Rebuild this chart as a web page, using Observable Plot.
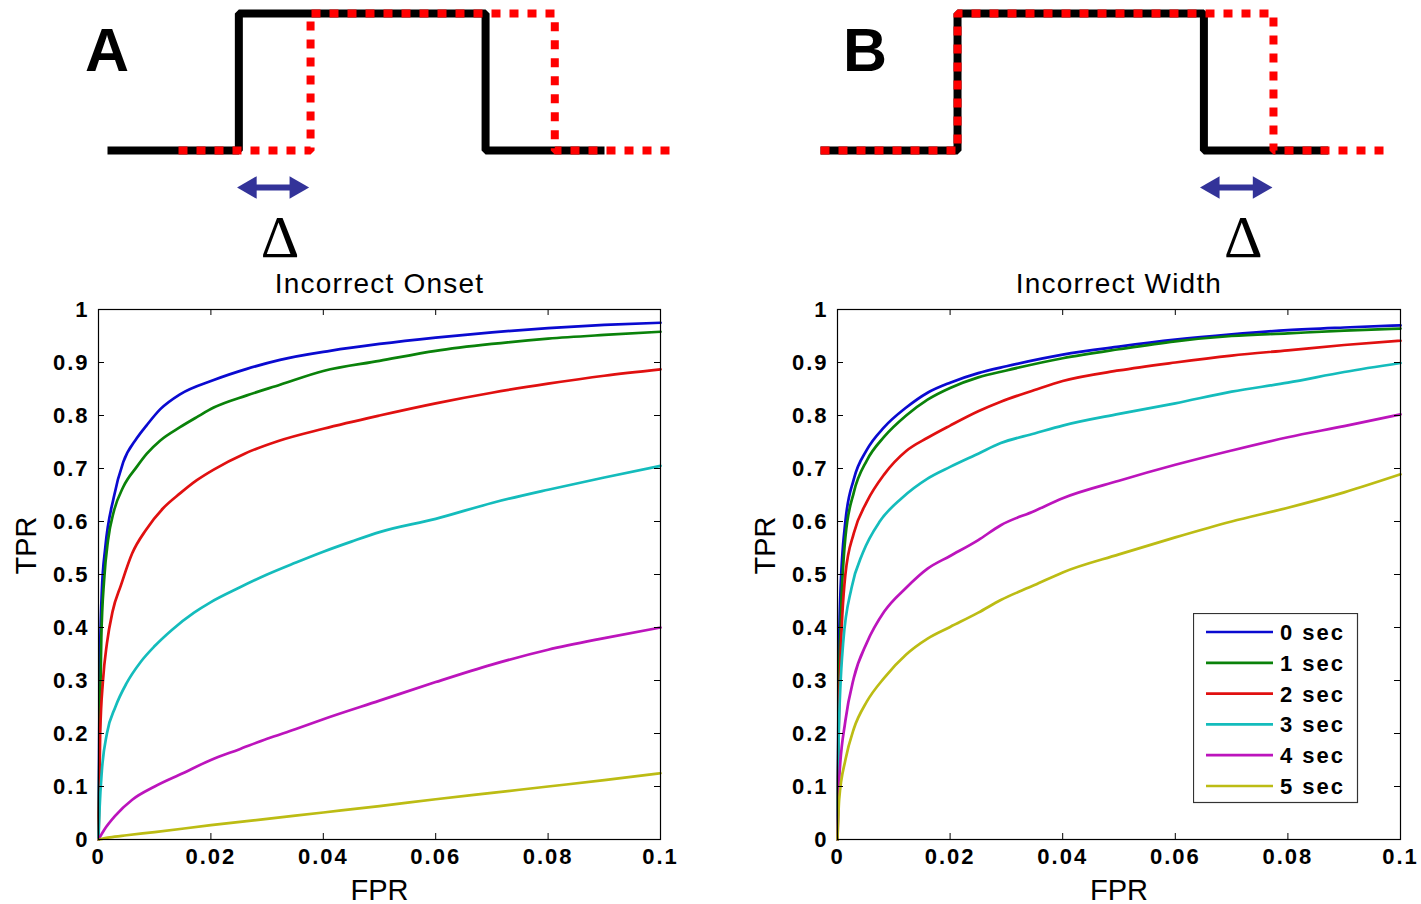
<!DOCTYPE html>
<html><head><meta charset="utf-8">
<script src="https://cdn.jsdelivr.net/npm/d3@7"></script>
<script src="https://cdn.jsdelivr.net/npm/@observablehq/plot@0.6"></script>
<style>
body{margin:0;background:#fff;}
#root{position:relative;width:1421px;height:904px;overflow:hidden;background:#fff;font-family:"Liberation Sans",Arial,sans-serif;}
.letter{position:absolute;font-weight:bold;font-size:61px;line-height:61px;color:#000;}
#root svg [aria-label="x-axis tick label"] text,
#root svg [aria-label="y-axis tick label"] text{letter-spacing:2px;}
.title text{letter-spacing:1.2px;}
</style></head><body><div id="root"></div>
<script>
// ---------------- data ----------------
const seriesNames = ["0 sec", "1 sec", "2 sec", "3 sec", "4 sec", "5 sec"];
const seriesColors = ["#0a0ad0", "#0a820a", "#e01010", "#14bcbc", "#bc14bc", "#bcbc14"];
const xTicks = [0, 0.02, 0.04, 0.06, 0.08, 0.1];
const xTickLabels = ["0", "0.02", "0.04", "0.06", "0.08", "0.1"];
const yTicks = [0, 0.1, 0.2, 0.3, 0.4, 0.5, 0.6, 0.7, 0.8, 0.9, 1];
const yTickLabels = ["0", "0.1", "0.2", "0.3", "0.4", "0.5", "0.6", "0.7", "0.8", "0.9", "1"];
const panelTitles = ["Incorrect Onset", "Incorrect Width"];
const panelLetters = ["A", "B"];

// Panel A: Incorrect Onset  [FPR, TPR]
const onset0 = [[0,0],[0.0002,0.3],[0.0006,0.47],[0.0012,0.55],[0.0027,0.645],[0.0044,0.712],[0.0068,0.757],[0.0086,0.782],[0.011,0.812],[0.0145,0.84],[0.0205,0.867],[0.0264,0.888],[0.0323,0.905],[0.0412,0.922],[0.05,0.935],[0.06,0.947],[0.07,0.957],[0.08,0.965],[0.09,0.971],[0.1,0.975]];
const onset1 = [[0,0],[0.0002,0.2],[0.0005,0.38],[0.001,0.49],[0.0017,0.565],[0.0027,0.618],[0.0044,0.665],[0.0068,0.703],[0.0086,0.728],[0.011,0.753],[0.0145,0.778],[0.0175,0.797],[0.0205,0.815],[0.0264,0.838],[0.0323,0.858],[0.04,0.884],[0.05,0.903],[0.06,0.922],[0.07,0.935],[0.08,0.945],[0.09,0.952],[0.1,0.958]];
const onset2 = [[0,0],[0.0003,0.2],[0.0008,0.3],[0.0015,0.37],[0.0025,0.43],[0.004,0.48],[0.006,0.54],[0.0085,0.585],[0.0115,0.625],[0.0145,0.653],[0.0175,0.678],[0.0205,0.698],[0.026,0.728],[0.032,0.752],[0.04,0.775],[0.05,0.8],[0.06,0.823],[0.07,0.843],[0.08,0.86],[0.09,0.875],[0.1,0.887]];
const onset3 = [[0,0],[0.0002,0.06],[0.0006,0.13],[0.0015,0.2],[0.003,0.25],[0.005,0.295],[0.0075,0.335],[0.01,0.365],[0.013,0.395],[0.017,0.428],[0.02,0.448],[0.025,0.475],[0.03,0.5],[0.035,0.522],[0.04,0.543],[0.045,0.562],[0.05,0.58],[0.06,0.605],[0.07,0.635],[0.08,0.66],[0.09,0.683],[0.1,0.705]];
const onset4 = [[0,0],[0.001,0.018],[0.003,0.045],[0.006,0.075],[0.01,0.1],[0.015,0.125],[0.02,0.15],[0.025,0.17],[0.03,0.19],[0.035,0.208],[0.04,0.227],[0.05,0.262],[0.06,0.297],[0.07,0.33],[0.08,0.358],[0.09,0.38],[0.1,0.4]];
const onset5 = [[0,0],[0.002,0.004],[0.005,0.008],[0.01,0.014],[0.02,0.027],[0.03,0.039],[0.04,0.051],[0.05,0.063],[0.06,0.076],[0.07,0.088],[0.08,0.1],[0.09,0.112],[0.1,0.125]];

// Panel B: Incorrect Width  [FPR, TPR]
const width0 = [[0,0],[0.0002,0.3],[0.0005,0.46],[0.0014,0.6],[0.0029,0.68],[0.0052,0.735],[0.0083,0.778],[0.0122,0.815],[0.016,0.843],[0.02,0.862],[0.025,0.88],[0.03,0.893],[0.04,0.915],[0.05,0.93],[0.06,0.943],[0.07,0.953],[0.08,0.961],[0.09,0.966],[0.1,0.97]];
const width1 = [[0,0],[0.0002,0.25],[0.0006,0.42],[0.0014,0.57],[0.0029,0.655],[0.0052,0.715],[0.0083,0.76],[0.0122,0.8],[0.016,0.83],[0.02,0.852],[0.025,0.872],[0.03,0.885],[0.04,0.908],[0.05,0.925],[0.06,0.94],[0.07,0.95],[0.08,0.955],[0.09,0.96],[0.1,0.964]];
const width2 = [[0,0],[0.0002,0.2],[0.0005,0.33],[0.0014,0.5],[0.0029,0.578],[0.0052,0.637],[0.0083,0.689],[0.0122,0.733],[0.016,0.758],[0.02,0.781],[0.025,0.808],[0.029,0.826],[0.035,0.848],[0.04,0.865],[0.05,0.885],[0.06,0.9],[0.07,0.913],[0.08,0.923],[0.09,0.933],[0.1,0.941]];
const width3 = [[0,0],[0.0002,0.19],[0.001,0.37],[0.0025,0.475],[0.0045,0.541],[0.0075,0.6],[0.0114,0.644],[0.016,0.681],[0.02,0.703],[0.025,0.728],[0.029,0.748],[0.035,0.766],[0.04,0.781],[0.05,0.803],[0.06,0.823],[0.07,0.845],[0.08,0.862],[0.09,0.882],[0.1,0.899]];
const width4 = [[0,0],[0.0003,0.113],[0.0014,0.224],[0.0029,0.305],[0.0052,0.371],[0.0083,0.43],[0.0122,0.475],[0.016,0.511],[0.02,0.535],[0.025,0.565],[0.029,0.593],[0.035,0.62],[0.04,0.644],[0.05,0.677],[0.06,0.707],[0.07,0.734],[0.08,0.759],[0.09,0.78],[0.1,0.802]];
const width5 = [[0,0],[0.0003,0.076],[0.0014,0.15],[0.0029,0.209],[0.0052,0.26],[0.0083,0.305],[0.0122,0.349],[0.016,0.379],[0.02,0.401],[0.025,0.428],[0.029,0.452],[0.035,0.48],[0.04,0.504],[0.05,0.538],[0.06,0.57],[0.07,0.6],[0.08,0.626],[0.09,0.655],[0.1,0.689]];

// Schematic step signals [time, level]: truth (black) vs detection (red dotted)
const onsetTruth = [[0,0],[3.7,0],[3.7,1],[10.65,1],[10.65,0],[14,0]];
const onsetDetected = [[2,0],[5.72,0],[5.72,1],[12.6,1],[12.6,0],[16,0]];
const onsetDelta = [3.68, 5.65];
const widthTruth = [[0,0],[3.86,0],[3.86,1],[10.8,1],[10.8,0],[14.3,0]];
const widthDetected = [[0,0],[3.86,0],[3.86,1],[12.76,1],[12.76,0],[16.1,0]];
const widthDelta = [10.72, 12.7];

// ---------------- drawing ----------------
const root = document.getElementById("root");
function place(el, left, top) {
  el.style.position = "absolute";
  el.style.left = left + "px";
  el.style.top = top + "px";
  root.appendChild(el);
  return el;
}
const toRows = (curves) => curves.flatMap((c, i) => c.map(([x, y]) => ({fpr: x, tpr: y, series: seriesNames[i]})));

function schematic(truth, detected, delta) {
  const pts = (arr) => arr.map(([t, v]) => ({t, v}));
  const arrowY = -0.27;
  return Plot.plot({
    width: 700, height: 270, margin: 0,
    x: {domain: [0, 16.2], range: [107, 107 + 35.5 * 16.2], axis: null},
    y: {domain: [0, 1], range: [150, 13], axis: null},
    style: {background: "transparent", overflow: "visible"},
    marks: [
      Plot.line(pts(truth), {x: "t", y: "v", stroke: "#000", strokeWidth: 8, strokeLinejoin: "miter", strokeLinecap: "butt"}),
      Plot.line(pts(detected), {x: "t", y: "v", stroke: "#ff0000", strokeWidth: 8, strokeDasharray: "9,9", strokeLinejoin: "miter", strokeLinecap: "butt"}),
      Plot.ruleY([arrowY], {x1: delta[0], x2: delta[1], stroke: "#333399", strokeWidth: 6, insetLeft: 12, insetRight: 12}),
      Plot.dot([delta[0]], {x: (d) => d, y: arrowY, symbol: "triangle", r: 8.4, fill: "#333399", stroke: null, rotate: -90, dx: 12}),
      Plot.dot([delta[1]], {x: (d) => d, y: arrowY, symbol: "triangle", r: 8.4, fill: "#333399", stroke: null, rotate: 90, dx: -12}),
      Plot.text(["Δ"], {x: (delta[0] + delta[1]) / 2, y: -0.78, dx: 7, lineAnchor: "bottom", fontSize: 60, fontFamily: "Liberation Serif, Times New Roman, serif", fill: "#000"})
    ]
  });
}

function rocPlot(curves, title, width, marginLeft, marginRight) {
  const height = 654, marginTop = 59, marginBottom = 65;
  const frameW = width - marginLeft - marginRight;
  const frameH = height - marginTop - marginBottom;
  const tick = 6;
  const font = "Liberation Sans, Arial, sans-serif";
  return Plot.plot({
    width, height, marginLeft, marginRight, marginTop, marginBottom,
    x: {domain: [0, 0.1]},
    y: {domain: [0, 1]},
    color: {domain: seriesNames, range: seriesColors},
    style: {background: "transparent", overflow: "visible", fontFamily: font, color: "#000"},
    marks: [
      Plot.line(toRows(curves), {x: "fpr", y: "tpr", stroke: "series", strokeWidth: 2.7, curve: "monotone-x"}),
      Plot.tickX(xTicks, {x: (d) => d, insetTop: frameH - tick, stroke: "#000"}),
      Plot.tickX(xTicks, {x: (d) => d, insetBottom: frameH - tick, stroke: "#000"}),
      Plot.tickY(yTicks, {y: (d) => d, insetLeft: frameW - tick, stroke: "#000"}),
      Plot.tickY(yTicks, {y: (d) => d, insetRight: frameW - tick, stroke: "#000"}),
      Plot.frame({stroke: "#000", strokeWidth: 1.2}),
      Plot.axisX({ticks: xTicks, tickFormat: (d) => xTickLabels[xTicks.indexOf(d)], tickSize: 0, tickPadding: 9, fontSize: 22, fontWeight: "bold", label: null}),
      Plot.axisY({ticks: yTicks, tickFormat: (d) => yTickLabels[yTicks.indexOf(d)], tickSize: 0, tickPadding: 9, fontSize: 22, fontWeight: "bold", label: null}),
      Plot.text([title], {frameAnchor: "top", lineAnchor: "bottom", dy: -17, fontSize: 28, className: "title"}),
      Plot.text(["FPR"], {frameAnchor: "bottom", lineAnchor: "bottom", dy: 60, fontSize: 29}),
      Plot.text(["TPR"], {frameAnchor: "left", rotate: -90, dx: -72, fontSize: 29})
    ]
  });
}

// schematics
place(schematic(onsetTruth, onsetDetected, onsetDelta), 0, 0);
place(schematic(widthTruth, widthDetected, widthDelta), 713, 0);

// panel letters
panelLetters.forEach((L, i) => {
  const d = document.createElement("div");
  d.className = "letter";
  d.textContent = L;
  place(d, i === 0 ? 85 : 843, 20);
});

// ROC panels
place(rocPlot([onset0, onset1, onset2, onset3, onset4, onset5], panelTitles[0], 700, 98, 40), 0, 250);
place(rocPlot([width0, width1, width2, width3, width4, width5], panelTitles[1], 681, 97, 21), 740, 250);

// legend (panel B)
const lw = 164, lh = 189;
const leg = d3.create("svg").attr("width", lw + 2).attr("height", lh + 2)
  .style("font-family", "Liberation Sans, Arial, sans-serif");
leg.append("rect").attr("x", 0.5).attr("y", 0.5).attr("width", lw).attr("height", lh)
  .attr("fill", "#fff").attr("stroke", "#333").attr("stroke-width", 1.2);
const row = leg.selectAll("g").data(seriesNames).join("g")
  .attr("transform", (d, i) => `translate(0,${19 + i * 30.8})`);
row.append("line").attr("x1", 13).attr("x2", 80).attr("y1", 0).attr("y2", 0)
  .attr("stroke", (d, i) => seriesColors[i]).attr("stroke-width", 2.7);
row.append("text").attr("x", 87).attr("y", 8).attr("font-size", 22).attr("font-weight", "bold")
  .attr("letter-spacing", "2px").text((d) => d);
place(leg.node(), 1193, 613);
</script></body></html>
